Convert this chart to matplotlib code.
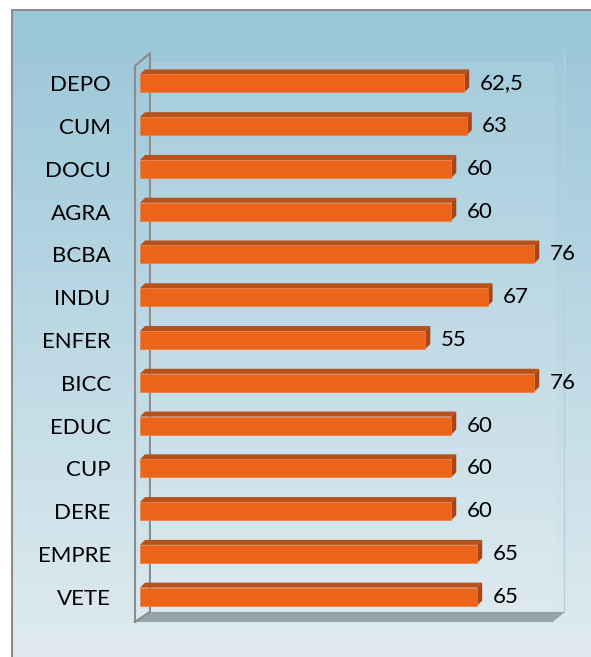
import matplotlib
matplotlib.use("Agg")
import matplotlib.pyplot as plt
from matplotlib.patches import Polygon, Rectangle
import numpy as np

categories = ["DEPO", "CUM", "DOCU", "AGRA", "BCBA", "INDU", "ENFER",
              "BICC", "EDUC", "CUP", "DERE", "EMPRE", "VETE"]
values = [62.5, 63, 60, 60, 76, 67, 55, 76, 60, 60, 60, 65, 65]
value_labels = ["62,5", "63", "60", "60", "76", "67", "55",
                "76", "60", "60", "60", "65", "65"]

W, H = 591, 657
FONT = "Lato"
FRONT = "#EC6419"
TOP = "#B7501A"
SIDE = "#A3461A"

fig = plt.figure(figsize=(W / 100, H / 100), dpi=100)

# background with gradient and outer border
bg = fig.add_axes([0, 0, 1, 1])
bg.set_xlim(0, W)
bg.set_ylim(H, 0)
bg.axis("off")
top_c = np.array([0x99, 0xC6, 0xD8]) / 255
bot_c = np.array([0xE0, 0xEB, 0xF0]) / 255
t = np.linspace(0, 1, 256)[:, None]
grad = top_c[None, :] * (1 - t) + bot_c[None, :] * t
bg.imshow(grad[:, None, :], extent=[12, W + 2, H + 2, 10], aspect="auto")
bg.plot([12, 12, W + 2], [H + 2, 10, 10], color="#8C8C8C", lw=1.5)
bg.set_xlim(0, W)
bg.set_ylim(H, 0)

# plot area (front plane)
ax_l, ax_r, ax_t, ax_b = 140, 555, 62, 618
ax = fig.add_axes([ax_l / W, 1 - ax_b / H, (ax_r - ax_l) / W, (ax_b - ax_t) / H])
ax.patch.set_alpha(0)
n = len(categories)
y = np.arange(n)[::-1]
ax.set_xlim(0, 80)
ax.set_ylim(-0.5, n - 0.5)
for s in ax.spines.values():
    s.set_visible(False)
ax.set_xticks([])
ax.set_yticks(y)
ax.set_yticklabels(categories, fontsize=16, family=FONT)
ax.tick_params(axis="y", length=0, pad=21)

# walls and floor (axes fraction)
tr = ax.transAxes
back = Rectangle((0.022, 0.011), 1.0, 1.005, transform=tr, facecolor="white",
                 alpha=0.08, edgecolor="none", zorder=0)
ax.add_patch(back)
ax.plot([1.022, 1.022], [0.011, 1.016], transform=tr, color="#B8D0DA", lw=1, zorder=0, clip_on=False)
floor = Polygon([(-0.012, -0.007), (0.995, -0.007), (1.024, 0.011), (0.024, 0.011)],
                closed=True, transform=tr, facecolor="#94A4AA", edgecolor="none",
                zorder=1, clip_on=False)
ax.add_patch(floor)
ax.plot([-0.012, -0.012, 0.024, 0.024, -0.012], [-0.007, 0.993, 1.016, 0.011, -0.007],
        transform=tr, color="#8C8C8C", lw=1.5, zorder=1, clip_on=False)

# 3d bars
h = 0.42
dx = 5 * 80 / (ax_r - ax_l)
dy = 5 * n / (ax_b - ax_t)
ax.barh(y, values, height=h, color=FRONT, edgecolor="#EF7A3A", linewidth=0.5, zorder=3)
for yi, v, lab in zip(y, values, value_labels):
    topf = Polygon([(0, yi + h / 2), (v, yi + h / 2), (v + dx, yi + h / 2 + dy), (dx, yi + h / 2 + dy)],
                   closed=True, facecolor=TOP, edgecolor="none", zorder=2)
    side = Polygon([(v, yi - h / 2), (v + dx, yi - h / 2 + dy), (v + dx, yi + h / 2 + dy), (v, yi + h / 2)],
                   closed=True, facecolor=SIDE, edgecolor="none", zorder=2)
    ax.add_patch(topf)
    ax.add_patch(side)
    ax.annotate(lab, (v, yi), xytext=(11, 0), textcoords="offset points",
                ha="left", va="center", fontsize=16, family=FONT, annotation_clip=False)

fig.savefig("out.png", dpi=100)
